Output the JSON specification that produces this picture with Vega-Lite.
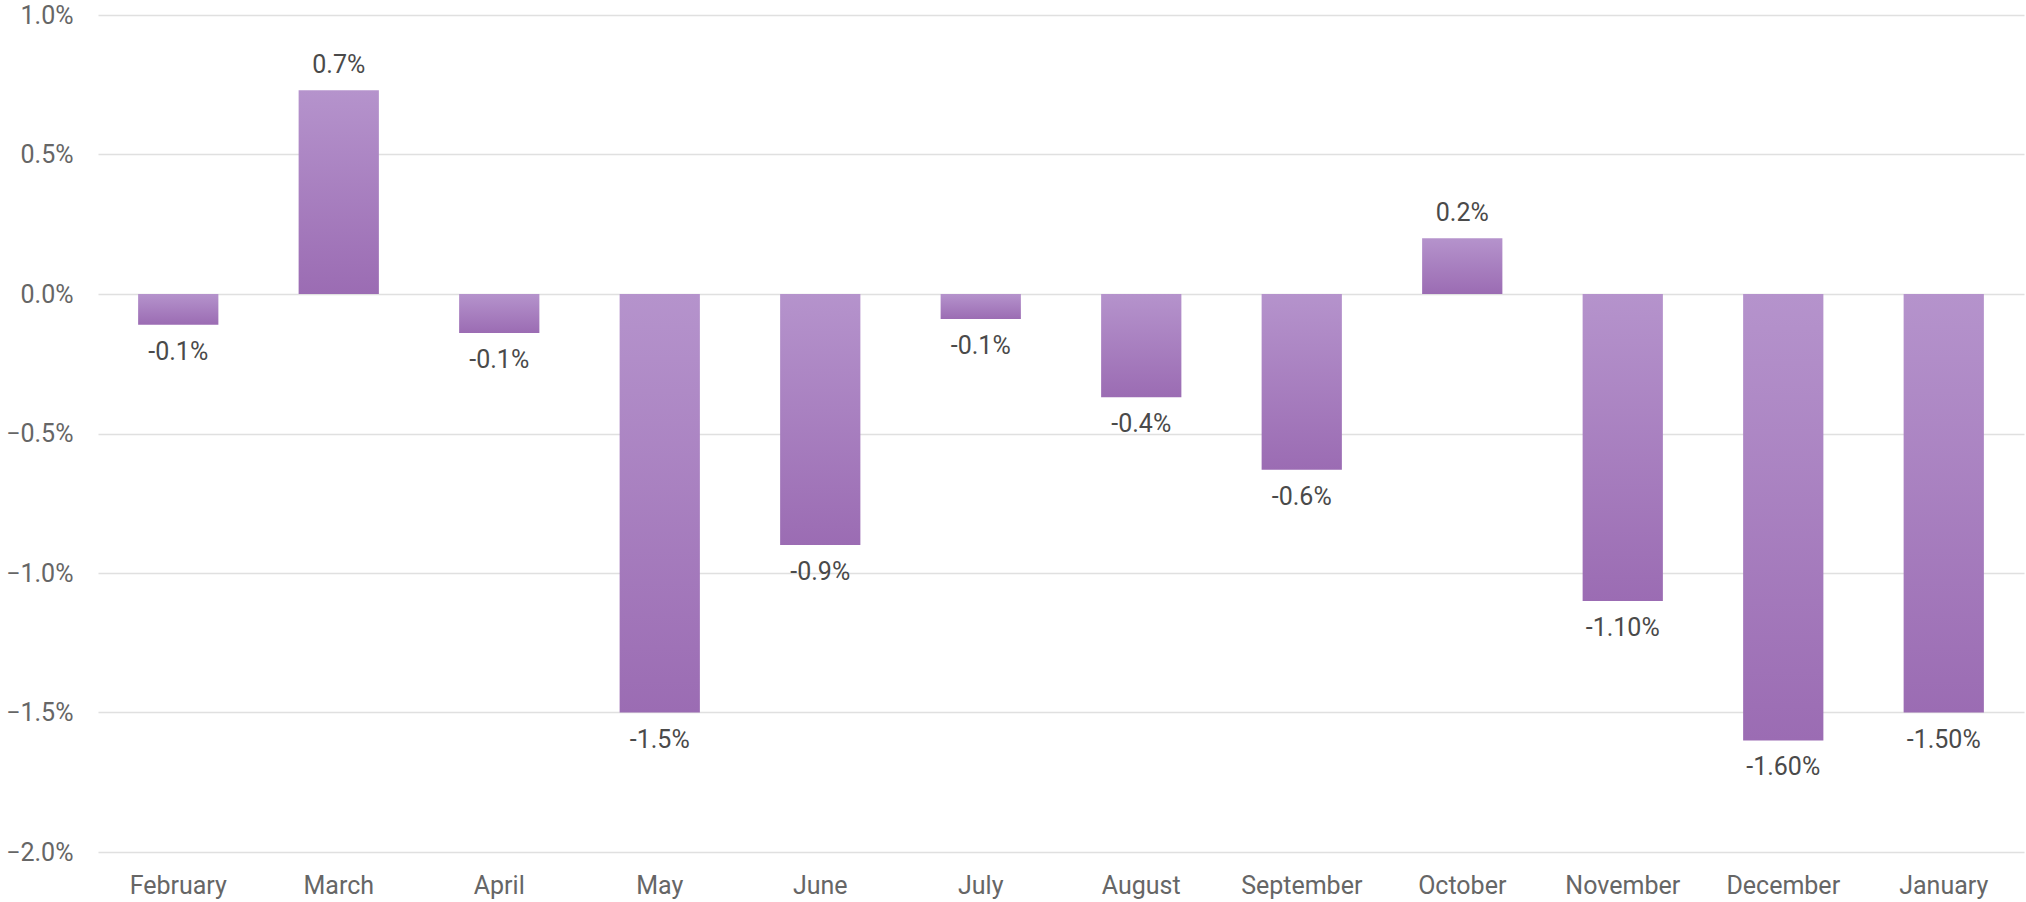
{
  "$schema": "https://vega.github.io/schema/vega-lite/v6.json",
  "width": 1926,
  "height": 837,
  "autosize": {"type": "none"},
  "padding": {"left": 98, "top": 15, "right": 2, "bottom": 50},
  "background": "white",
  "config": {
    "view": {"stroke": null},
    "font": "Roboto",
    "axis": {"labelFont": "Roboto", "labelFontSize": 25, "labelColor": "#666666", "domain": false, "ticks": false, "title": null, "gridColor": "#e0e0e0", "gridWidth": 1.5}
  },
  "data": {
    "values": [
      {"month": "February", "value": -0.0011, "label": "-0.1%"},
      {"month": "March", "value": 0.0073, "label": "0.7%"},
      {"month": "April", "value": -0.0014, "label": "-0.1%"},
      {"month": "May", "value": -0.015, "label": "-1.5%"},
      {"month": "June", "value": -0.009, "label": "-0.9%"},
      {"month": "July", "value": -0.0009, "label": "-0.1%"},
      {"month": "August", "value": -0.0037, "label": "-0.4%"},
      {"month": "September", "value": -0.0063, "label": "-0.6%"},
      {"month": "October", "value": 0.002, "label": "0.2%"},
      {"month": "November", "value": -0.011, "label": "-1.10%"},
      {"month": "December", "value": -0.016, "label": "-1.60%"},
      {"month": "January", "value": -0.015, "label": "-1.50%"}
    ]
  },
  "encoding": {
    "x": {
      "field": "month", "type": "nominal", "sort": null,
      "scale": {"paddingInner": 0.5, "paddingOuter": 0.25},
      "axis": {"labelAngle": 0, "labelPadding": 21, "labelBaseline": "top", "grid": false}
    },
    "y": {
      "field": "value", "type": "quantitative",
      "scale": {"domain": [-0.02, 0.01], "nice": false, "zero": true},
      "axis": {"values": [-0.02, -0.015, -0.01, -0.005, 0, 0.005, 0.01], "format": ".1%", "labelPadding": 25, "grid": true}
    }
  },
  "layer": [
    {
      "mark": {
        "type": "bar",
        "color": {
          "gradient": "linear", "x1": 0, "y1": 0, "x2": 0, "y2": 1,
          "stops": [{"offset": 0, "color": "#b593cc"}, {"offset": 1, "color": "#9b6cb3"}]
        }
      }
    },
    {
      "transform": [{"filter": "datum.value >= 0"}],
      "mark": {"type": "text", "baseline": "alphabetic", "dy": -17, "fontSize": 25, "color": "#4a4a4a", "font": "Roboto"},
      "encoding": {"text": {"field": "label"}}
    },
    {
      "transform": [{"filter": "datum.value < 0"}],
      "mark": {"type": "text", "baseline": "top", "dy": 15, "fontSize": 25, "color": "#4a4a4a", "font": "Roboto"},
      "encoding": {"text": {"field": "label"}}
    }
  ]
}
